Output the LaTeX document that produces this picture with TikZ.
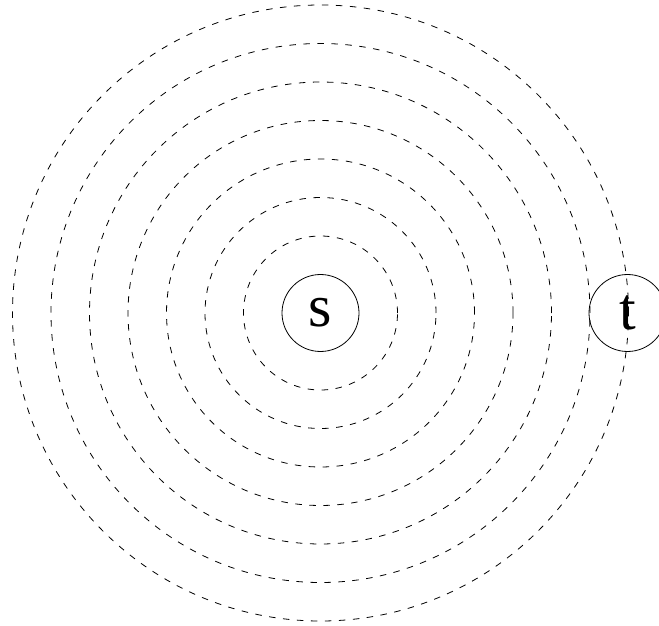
\documentclass[tikz,border=0pt]{standalone}
\usepackage{fontspec}
\setmainfont{Liberation Serif}
\begin{document}
\begin{tikzpicture}[x=1pt,y=1pt,
  ring/.style={draw, dash pattern=on 6.5pt off 7.5pt, line width=0.8pt},
  vert/.style={draw, circle, line width=0.8pt, minimum size=77pt, inner sep=0pt, font=\fontsize{60}{62}\selectfont}]
\useasboundingbox (0,0) rectangle (659,625);
\coordinate (c) at (320.5,312);
\foreach \k in {2,...,8} {
  \draw[ring] (c) circle ({38.5*\k});
}
\node[vert] (s) at (c) {s};
\node[vert] (t) at (627.5,312) {t};
\end{tikzpicture}
\end{document}
